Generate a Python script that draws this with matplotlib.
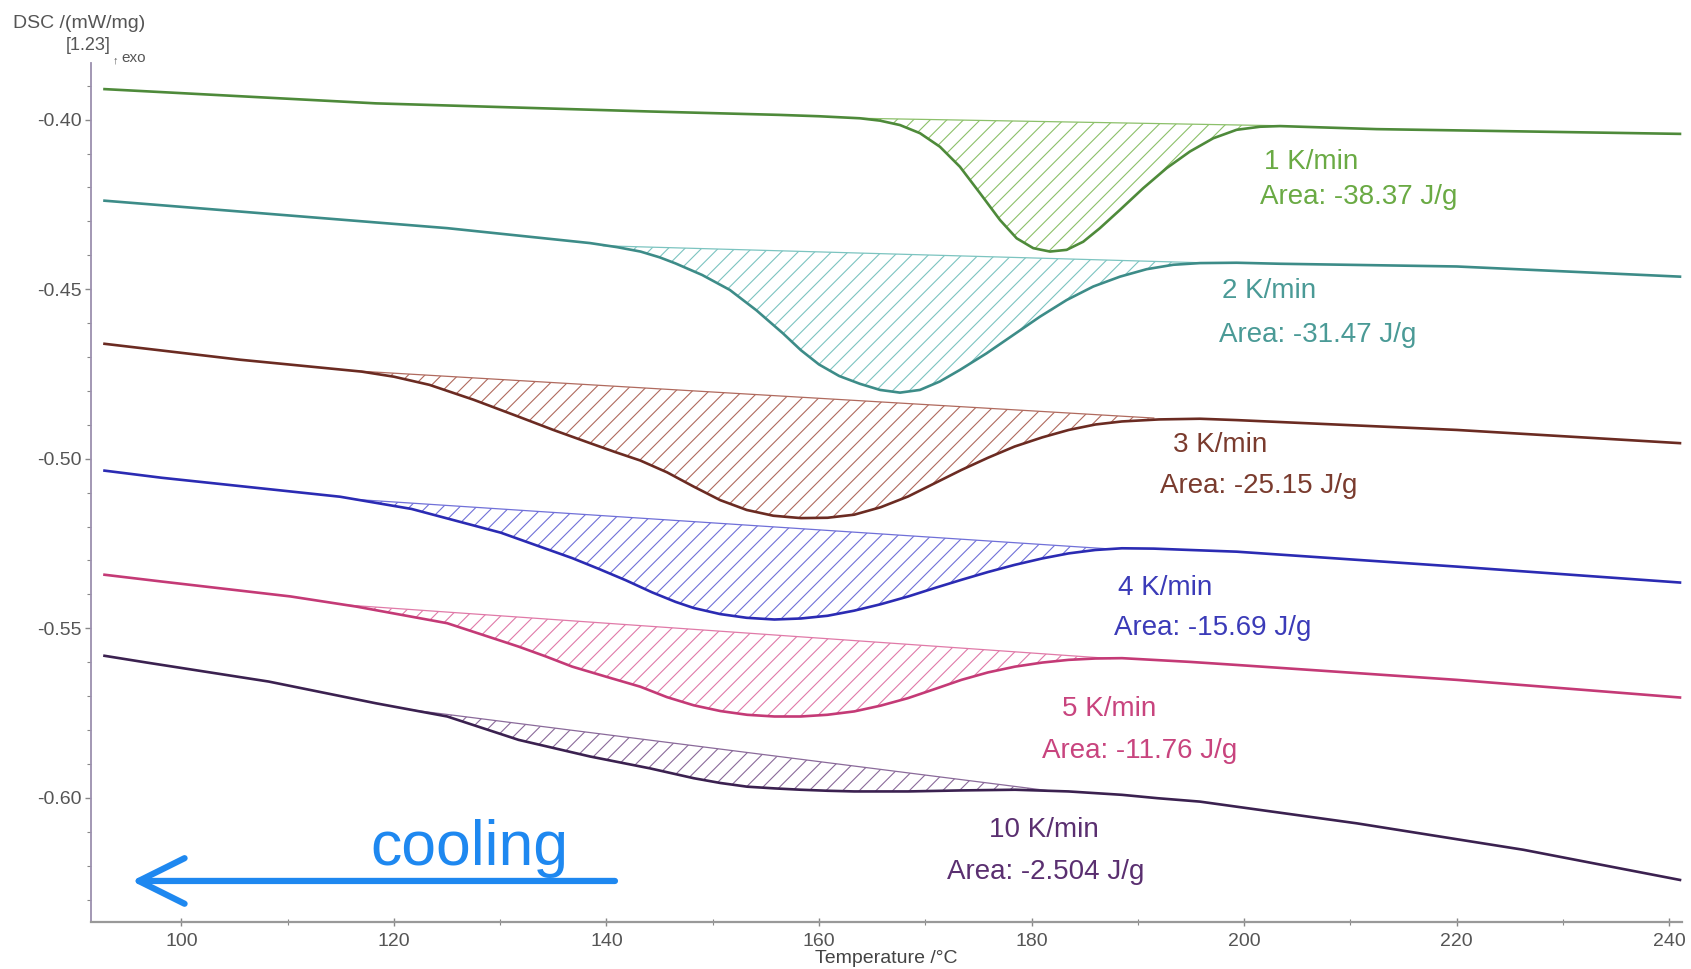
import matplotlib
matplotlib.use("Agg")
import matplotlib.pyplot as plt
import numpy as np

plt.rcParams['font.family'] = ['Liberation Sans', 'DejaVu Sans']
plt.rcParams['axes.unicode_minus'] = False
plt.rcParams['hatch.linewidth'] = 0.8

# cooling rates and peak areas
rates = ['1 K/min', '2 K/min', '3 K/min', '4 K/min', '5 K/min', '10 K/min']
areas = ['Area: -38.37 J/g', 'Area: -31.47 J/g', 'Area: -25.15 J/g',
         'Area: -15.69 J/g', 'Area: -11.76 J/g', 'Area: -2.504 J/g']

# DSC curves (temperature /degC, DSC /(mW/mg))
t_1k = [92.77, 118.30, 144.10, 156.26, 160.00, 163.85, 165.74, 167.62, 169.50, 171.38, 173.26, 175.15,
        177.03, 178.60, 180.16, 181.73, 183.30, 184.86, 186.43, 188.32, 190.51, 192.71, 194.90,
        197.09, 199.29, 201.49, 203.37, 212.47, 241.01]
dsc_1k = [-0.3910, -0.3952, -0.3976, -0.3986, -0.3990, -0.3996, -0.4003, -0.4016, -0.4040, -0.4080, -0.4139, -0.4217,
          -0.4296, -0.4350, -0.4379, -0.4389, -0.4384, -0.4360, -0.4320, -0.4266, -0.4202, -0.4143, -0.4094,
          -0.4055, -0.4030, -0.4021, -0.4019, -0.4028, -0.4042]

t_2k = [92.77, 125.02, 138.45, 141.00, 143.20, 145.00, 146.50, 149.00, 151.60, 154.10, 156.60, 158.30,
        160.00, 161.90, 163.85, 165.74, 167.62, 169.50, 171.38, 173.26, 175.77, 178.28, 180.79,
        183.30, 185.81, 188.32, 190.83, 193.33, 195.84, 199.29, 203.37, 220.00, 241.01]
dsc_2k = [-0.4239, -0.4320, -0.4364, -0.4376, -0.4389, -0.4406, -0.4424, -0.4458, -0.4502, -0.4562, -0.4630, -0.4680,
          -0.4722, -0.4756, -0.4779, -0.4797, -0.4805, -0.4797, -0.4772, -0.4738, -0.4689, -0.4635, -0.4581,
          -0.4532, -0.4492, -0.4463, -0.4441, -0.4428, -0.4423, -0.4422, -0.4425, -0.4433, -0.4463]

t_3k = [92.77, 105.54, 116.96, 120.00, 123.34, 127.50, 131.74, 135.00, 138.46, 140.80, 143.17, 145.70,
        148.20, 150.70, 153.20, 155.70, 158.30, 160.80, 163.30, 165.80, 168.40, 170.90, 173.40,
        175.90, 178.40, 181.00, 183.50, 186.00, 188.50, 192.00, 195.84, 199.30, 220.00, 241.01]
dsc_3k = [-0.4661, -0.4708, -0.4743, -0.4758, -0.4782, -0.4826, -0.4876, -0.4915, -0.4954, -0.4980, -0.5005, -0.5040,
          -0.5082, -0.5122, -0.5151, -0.5168, -0.5175, -0.5174, -0.5165, -0.5143, -0.5111, -0.5072, -0.5033,
          -0.4997, -0.4964, -0.4937, -0.4915, -0.4899, -0.4890, -0.4884, -0.4882, -0.4886, -0.4915, -0.4954]

t_4k = [92.77, 98.14, 114.94, 121.66, 130.06, 136.78, 139.30, 141.80, 144.30, 146.50, 148.20, 150.70,
        153.20, 155.80, 158.30, 160.80, 163.30, 165.80, 168.40, 170.90, 173.40, 175.90, 178.40,
        181.00, 183.50, 186.00, 188.50, 191.50, 194.91, 199.30, 220.00, 241.01]
dsc_4k = [-0.5035, -0.5056, -0.5112, -0.5148, -0.5218, -0.5293, -0.5325, -0.5358, -0.5394, -0.5422, -0.5440, -0.5458,
          -0.5469, -0.5474, -0.5471, -0.5463, -0.5448, -0.5429, -0.5406, -0.5381, -0.5357, -0.5334, -0.5313,
          -0.5294, -0.5279, -0.5269, -0.5264, -0.5265, -0.5269, -0.5274, -0.5318, -0.5365]

t_5k = [92.77, 98.14, 110.27, 116.48, 125.02, 131.74, 134.30, 136.78, 140.00, 143.17, 145.70, 148.21,
        150.73, 153.24, 155.80, 158.28, 160.77, 163.32, 165.80, 168.36, 170.90, 173.40, 175.90,
        178.44, 181.00, 183.48, 186.00, 188.51, 194.91, 199.30, 220.00, 241.01]
dsc_5k = [-0.5342, -0.5362, -0.5406, -0.5436, -0.5485, -0.5554, -0.5583, -0.5613, -0.5643, -0.5672, -0.5703, -0.5727,
          -0.5744, -0.5755, -0.5760, -0.5760, -0.5755, -0.5745, -0.5728, -0.5706, -0.5679, -0.5652, -0.5630,
          -0.5613, -0.5601, -0.5593, -0.5589, -0.5588, -0.5599, -0.5608, -0.5652, -0.5704]

t_10k = [92.77, 96.75, 108.22, 118.30, 125.02, 131.74, 138.46, 144.10, 148.21, 150.70, 153.24, 155.80,
         158.28, 160.80, 163.32, 168.36, 173.40, 178.44, 183.48, 188.51, 191.87, 195.84, 210.59,
         226.27, 241.01]
dsc_10k = [-0.5581, -0.5601, -0.5657, -0.5721, -0.5760, -0.5829, -0.5878, -0.5913, -0.5942, -0.5956, -0.5967, -0.5972,
           -0.5976, -0.5979, -0.5981, -0.5981, -0.5978, -0.5976, -0.5981, -0.5991, -0.6001, -0.6011, -0.6075,
           -0.6153, -0.6242]

# integration baselines: (T start, DSC start), (T end, DSC end)
base_start = [(163.85, -0.3996), (139.7, -0.4372), (116.4, -0.4741),
              (116.4, -0.5120), (115.4, -0.5431), (121.5, -0.5740)]
base_end = [(203.4, -0.4018), (196.0, -0.4422), (191.5, -0.4880),
            (187.4, -0.5266), (187.4, -0.5589), (181.9, -0.5980)]

temps = [t_1k, t_2k, t_3k, t_4k, t_5k, t_10k]
signals = [dsc_1k, dsc_2k, dsc_3k, dsc_4k, dsc_5k, dsc_10k]

line_colors = ['#4e8a3a', '#3d8c88', '#6b2b22', '#2b2bb3', '#c43a76', '#3b2150']
hatch_colors = ['#8cc06a', '#7cc4c0', '#b06a5e', '#7070d8', '#e07aa8', '#8a6a9a']
text_colors = ['#6aaa44', '#4a9a96', '#7a3b2e', '#3b3bb8', '#c8447e', '#5a2f70']

# label anchors (left edge, centre) for rate / area lines
rate_pos = [(201.9, -0.4124), (197.9, -0.4506), (193.3, -0.4960),
            (188.1, -0.5380), (182.9, -0.5739), (176.0, -0.6095)]
area_pos = [(201.5, -0.4229), (197.6, -0.4636), (192.1, -0.5081),
            (187.8, -0.5498), (181.0, -0.5863), (172.0, -0.6219)]

fig = plt.figure(figsize=(16.91, 9.69), dpi=100, facecolor='white')
ax = fig.add_axes([91 / 1691, 47 / 969, (1682 - 91) / 1691, (922 - 63) / 969])

for i in range(len(rates)):
    t = np.array(temps[i])
    s = np.array(signals[i])
    (t0, v0), (t1, v1) = base_start[i], base_end[i]
    inside = (t > t0) & (t < t1)
    px = np.concatenate([[t0], t[inside], [t1]])
    py = np.concatenate([[v0], s[inside], [v1]])
    ax.fill(px, py, facecolor='none', edgecolor=hatch_colors[i], hatch='//', linewidth=0)
    ax.plot([t0, t1], [v0, v1], color=hatch_colors[i], lw=0.9)
    ax.plot(t, s, color=line_colors[i], lw=1.9, solid_joinstyle='round')
    ax.text(*rate_pos[i], rates[i], fontsize=20, color=text_colors[i], va='center', ha='left')
    ax.text(*area_pos[i], areas[i], fontsize=20, color=text_colors[i], va='center', ha='left')

# cooling direction
ax.annotate('', xy=(95.33, -0.6245), xytext=(140.8, -0.6245),
            arrowprops=dict(arrowstyle='->,head_length=1.65,head_width=0.82', color='#1e88f0',
                            lw=4.5, mutation_scale=20, shrinkA=0, shrinkB=0))
ax.text(117.8, -0.6197, 'cooling', fontsize=45, color='#1e88f0', va='baseline', ha='left')

ax.set_xlim(91.5, 241.2)
ax.set_ylim(-0.6366, -0.3833)
ax.set_xticks(np.arange(100, 241, 20))
ax.set_xticks(np.arange(110, 241, 20), minor=True)
ax.set_yticks([-0.60, -0.55, -0.50, -0.45, -0.40])
ax.set_yticks(np.arange(-0.63, -0.385, 0.01), minor=True)
ax.set_yticklabels(['-0.60', '-0.55', '-0.50', '-0.45', '-0.40'])

for side in ['top', 'right']:
    ax.spines[side].set_visible(False)
ax.spines['left'].set_color('#9b8fae')
ax.spines['left'].set_linewidth(1.3)
ax.spines['bottom'].set_color('#999999')
ax.spines['bottom'].set_linewidth(1.6)

ax.tick_params(axis='x', which='major', direction='inout', length=6, width=1, color='#888888',
               labelsize=14, labelcolor='#555555', pad=5)
ax.tick_params(axis='x', which='minor', direction='inout', length=4, width=0.8, color='#888888')
ax.tick_params(axis='y', which='major', direction='out', length=4, width=1, color='#888888',
               labelsize=14, labelcolor='#555555', pad=3)
ax.tick_params(axis='y', which='minor', direction='out', length=3, width=0.8, color='#888888')

ax.set_xlabel('Temperature /°C', fontsize=14, color='#444444', labelpad=0)

fig.text(13 / 1691, 1 - 24 / 969, 'DSC /(mW/mg)', fontsize=14, color='#555555', va='center', ha='left')
fig.text(66 / 1691, 1 - 46 / 969, '[1.23]', fontsize=13, color='#555555', va='center', ha='left')
fig.text(113 / 1691, 1 - 60 / 969, '↑', fontsize=8, color='#555555', va='center', ha='left')
fig.text(121 / 1691, 1 - 58 / 969, 'exo', fontsize=11, color='#555555', va='center', ha='left')

fig.savefig('out.png', dpi=100, facecolor='white')
